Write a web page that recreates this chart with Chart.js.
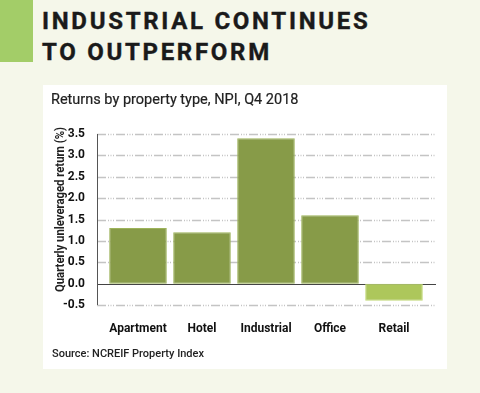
<!DOCTYPE html>
<html>
<head>
<meta charset="utf-8">
<script src="https://cdn.jsdelivr.net/npm/chart.js@4.4.1/dist/chart.umd.min.js"></script>
<style>
  html, body { margin: 0; padding: 0; }
  body { width: 480px; height: 393px; background: #f5f7ea; position: relative; overflow: hidden; font-family: Roboto, "Liberation Sans", sans-serif; }
  #flag { position: absolute; left: 0; top: 0; width: 33px; height: 62px; background: #a3cd68; }
  #headline { position: absolute; left: 42px; top: 6px; margin: 0; font: bold 24px/31px Roboto, "Liberation Sans", sans-serif; letter-spacing: 2.7px; color: #1a1a1a; -webkit-text-stroke: 0.4px #1a1a1a; }
  #panel { position: absolute; left: 43px; top: 85px; width: 404px; height: 284px; background: #fff; }
  #subtitle { position: absolute; left: 51px; top: 91px; font-size: 14.5px; color: #222; -webkit-text-stroke: 0.2px #222; }
  #source { position: absolute; left: 52px; top: 347px; font-size: 11px; color: #222; font-weight: 500; }
  #wrap { position: absolute; left: 43px; top: 85px; width: 404px; height: 284px; }
</style>
</head>
<body>
<div id="flag"></div>
<h1 id="headline">INDUSTRIAL CONTINUES<br>TO OUTPERFORM</h1>
<div id="panel"></div>
<div id="wrap"><canvas id="returnsChart"></canvas></div>
<div id="subtitle">Returns by property type, NPI, Q4 2018</div>
<div id="source">Source: NCREIF Property Index</div>
<script>
// Veriler
const propertyTypes = ["Apartment", "Hotel", "Industrial", "Office", "Retail"];
const quarterlyReturns = [1.3, 1.2, 3.4, 1.6, -0.4];
const barColors = ["#879b48", "#879b48", "#879b48", "#879b48", "#adc75b"];
const borderColors = ["#9db35a", "#9db35a", "#9db35a", "#9db35a", "#c2d978"];
const yTicks = [-0.5, 0, 0.5, 1, 1.5, 2, 2.5, 3, 3.5];
const yAxisTitle = "Quarterly unleveraged return (%)";

const axisFont = "Roboto, 'Liberation Sans', sans-serif";

// Izgara çizgileri ve eksen
const gridPlugin = {
    id: "gridPlugin",
    beforeDatasetsDraw(chart) {
        const { ctx, chartArea, scales } = chart;
        const left = chartArea.left - 9;
        const right = chartArea.right + 10;
        ctx.save();
        yTicks.forEach(v => {
            const y = Math.round(scales.y.getPixelForValue(v)) + 0.5;
            ctx.beginPath();
            if (v === 0) {
                ctx.setLineDash([]);
                ctx.strokeStyle = "#444";
                ctx.lineWidth = 1.2;
            } else {
                ctx.setLineDash([9, 2, 1, 1.5, 1, 1.5, 1, 2]);
                ctx.strokeStyle = "#c4c4c4";
                ctx.lineWidth = 1.5;
            }
            ctx.moveTo(left, y);
            ctx.lineTo(right, y);
            ctx.stroke();
        });
        ctx.setLineDash([]);
        ctx.strokeStyle = "#555";
        ctx.lineWidth = 1;
        ctx.beginPath();
        ctx.moveTo(left + 0.5, scales.y.getPixelForValue(3.5));
        ctx.lineTo(left + 0.5, scales.y.getPixelForValue(-0.5));
        ctx.stroke();
        ctx.restore();
    },
    afterDraw(chart) {
        // dikey eksen başlığı, dar yazı gibi sıkıştırılmış
        const { ctx } = chart;
        ctx.save();
        ctx.font = "bold 12px " + axisFont;
        const w = ctx.measureText(yAxisTitle).width;
        ctx.translate(18, 124.5);
        ctx.rotate(-Math.PI / 2);
        ctx.scale(165 / w, 1);
        ctx.fillStyle = "#222";
        ctx.textAlign = "center";
        ctx.textBaseline = "middle";
        ctx.fillText(yAxisTitle, 0, 0);
        ctx.restore();
    }
};

const ctx = document.getElementById("returnsChart").getContext("2d");
new Chart(ctx, {
    type: "bar",
    data: {
        labels: propertyTypes,
        datasets: [{
            data: quarterlyReturns,
            backgroundColor: barColors,
            borderColor: borderColors,
            borderWidth: 1,
            borderSkipped: false,
            categoryPercentage: 0.9,
            barPercentage: 1
        }]
    },
    options: {
        responsive: true,
        maintainAspectRatio: false,
        animation: false,
        layout: { padding: { top: 49, right: 21, bottom: 32, left: 0 } },
        plugins: {
            legend: { display: false },
            tooltip: { enabled: false }
        },
        scales: {
            x: {
                grid: { display: false },
                border: { display: false },
                ticks: {
                    color: "#111",
                    padding: 9,
                    maxRotation: 0,
                    autoSkip: false,
                    font: { family: axisFont, size: 12, weight: "bold" }
                },
                afterFit: (scale) => { scale.height = 32; }
            },
            y: {
                min: -0.5,
                max: 3.5,
                afterBuildTicks: (scale) => { scale.ticks = yTicks.map(v => ({ value: v })); },
                grid: { display: false },
                border: { display: false },
                ticks: {
                    color: "#111",
                    padding: 13,
                    font: { family: axisFont, size: 12, weight: "bold" },
                    callback: (v) => Number(v).toFixed(1)
                },
                afterFit: (scale) => { scale.width = 63; }
            }
        }
    },
    plugins: [gridPlugin]
});
</script>
</body>
</html>
